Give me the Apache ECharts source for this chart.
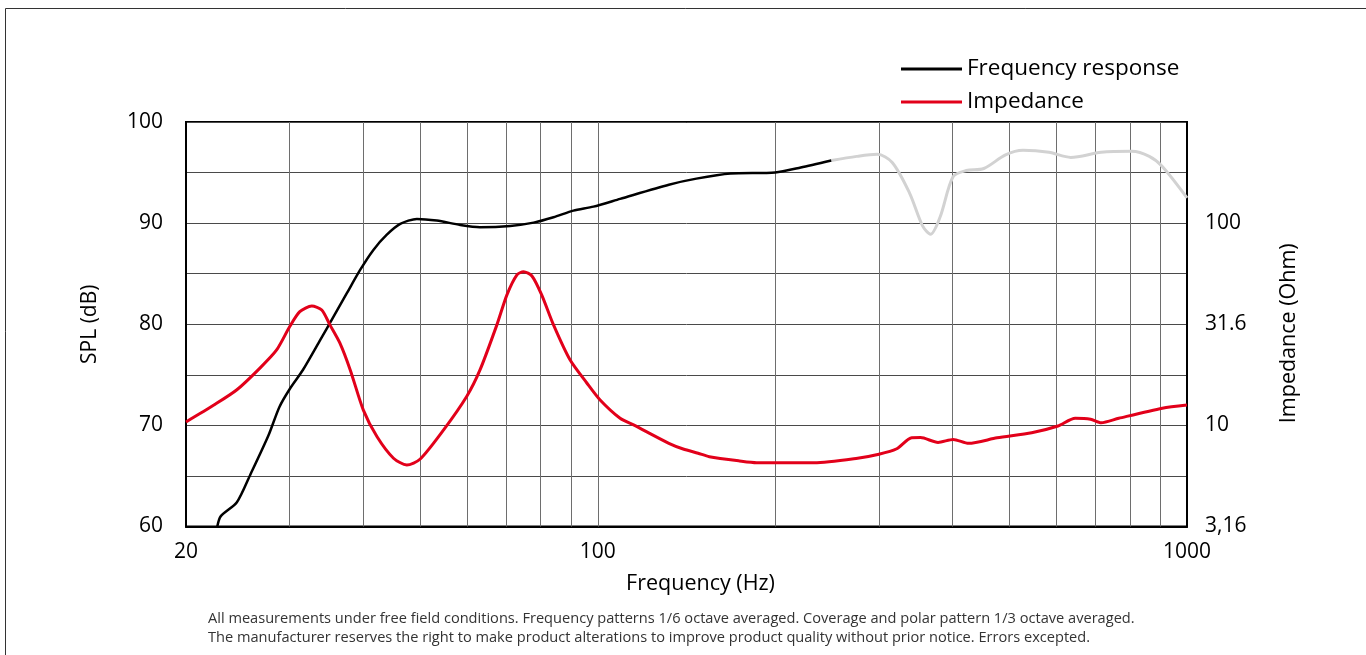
<!DOCTYPE html>
<html>
<head>
<meta charset="utf-8">
<script src="https://cdn.jsdelivr.net/npm/echarts@6/dist/echarts.min.js"></script>
<style>
html,body{margin:0;padding:0;background:#fff;}
#chart{width:1366px;height:655px;}
</style>
</head>
<body>
<div id="chart"></div>
<script>
// Frequency response (black, measured range)
const frFreqBlack = [22.6, 22.9, 24.4, 25.7, 27.6, 28.8, 30.0, 31.6, 33.8, 35.6, 37.5, 39.5, 41.6, 43.8, 46.2, 49.3, 53.3, 58.4, 63.1, 71.0, 77.8, 84.1, 90.9, 98.3, 109.1, 132, 147, 168, 200, 221, 249];
const frSplBlack  = [60.0, 61.0, 62.4, 65.1, 69.0, 71.8, 73.6, 75.5, 78.45, 80.75, 83.07, 85.37, 87.35, 88.83, 89.92, 90.42, 90.25, 89.82, 89.6, 89.72, 90.05, 90.58, 91.24, 91.63, 92.4, 93.8, 94.4, 94.9, 95.0, 95.5, 96.2];
// Frequency response (grey, out of band)
const frFreqGrey = [249, 275, 298, 316, 338, 356, 367, 381, 401, 422, 452, 492, 527, 583, 635, 715, 806, 863, 908, 1000];
const frSplGrey  = [96.2, 96.6, 96.8, 96.0, 93.0, 89.7, 88.9, 90.6, 94.6, 95.2, 95.4, 96.75, 97.2, 97.0, 96.5, 97.0, 97.1, 96.6, 95.6, 92.5];
// Impedance (Ohm)
const impFreq = [20, 22.3, 24.4, 26.7, 28.5, 30.0, 31.2, 32.7, 34.0, 35.1, 36.5, 38.0, 40.0, 42.2, 45.0, 47.4, 49.9, 54.7, 59.9, 63.1, 67.4, 70.1, 72.9, 74.8, 77.3, 80.3, 84.1, 89.7, 95.8, 100.9, 109.1, 115, 132, 139.6, 148, 154.6, 174, 186, 233, 276, 300, 321, 341, 353, 378, 401, 426, 476, 545, 604, 646, 686, 715, 766, 908, 1000];
const impOhm  = [10.4, 12.6, 15.0, 19.2, 23.6, 30.8, 36.5, 38.9, 37.2, 31.4, 25.5, 18.8, 11.9, 8.78, 6.88, 6.37, 6.80, 9.48, 13.9, 18.8, 31.4, 44.2, 55.5, 57.5, 54.8, 44.2, 31.4, 21.1, 16.2, 13.35, 10.84, 10.05, 8.15, 7.64, 7.28, 7.0, 6.67, 6.54, 6.54, 6.88, 7.2, 7.64, 8.68, 8.7, 8.24, 8.52, 8.15, 8.68, 9.2, 9.93, 10.84, 10.72, 10.3, 10.84, 12.16, 12.6];

// Axis tick labels / gridlines
const xGridValues = [30, 40, 50, 60, 70, 80, 90, 100, 200, 300, 400, 500, 600, 700, 800, 900];
const splTickLabels = ['60', '70', '80', '90', '100'];
const impTickLabels = ['3,16', '10', '31.6', '100', ''];
const legendNames = ['Frequency response', 'Impedance'];
const footnoteLines = [
  'All measurements under free field conditions. Frequency patterns 1/6 octave averaged. Coverage and polar pattern 1/3 octave averaged.',
  'The manufacturer reserves the right to make product alterations to improve product quality without prior notice. Errors excepted.'
];

const pair = (xs, ys) => xs.map((x, i) => [x, ys[i]]);
const FONT = 'Open Sans';

const chart = echarts.init(document.getElementById('chart'), null, {renderer: 'canvas'});
chart.setOption({
  animation: false,
  backgroundColor: '#fff',
  textStyle: {fontFamily: FONT},
  grid: {left: 186, right: 179, top: 122, bottom: 128.5, show: true, borderColor: '#000', borderWidth: 2, containLabel: false},
  legend: {
    data: legendNames,
    orient: 'vertical',
    left: 901, top: 56, padding: 0,
    icon: 'rect', itemWidth: 61, itemHeight: 3, itemGap: 7, itemTextGap: 4,
    textStyle: {fontFamily: FONT, fontSize: 22.5, color: '#000', lineHeight: 26}
  },
  xAxis: {
    type: 'log', logBase: 10, min: 20, max: 1000,
    name: 'Frequency (Hz)', nameLocation: 'middle', nameGap: 46,
    nameTextStyle: {fontFamily: FONT, fontSize: 21.5, color: '#000', padding: [0, 0, 0, 28]},
    axisLine: {show: true, lineStyle: {color: '#000', width: 2}},
    axisTick: {show: false},
    splitLine: {show: false},
    axisLabel: {fontFamily: FONT, fontSize: 21, color: '#000', margin: 15, showMinLabel: true, showMaxLabel: true,
      formatter: v => String(Math.round(v))}
  },
  yAxis: [
    {
      type: 'value', min: 60, max: 100, interval: 5, position: 'left',
      name: 'SPL (dB)', nameLocation: 'middle', nameGap: 85, nameRotate: 90,
      nameTextStyle: {fontFamily: FONT, fontSize: 21, color: '#000'},
      axisLine: {show: true, lineStyle: {color: '#000', width: 2}},
      axisTick: {show: false},
      splitLine: {show: true, lineStyle: {color: '#4a4a4a', width: 1}},
      axisLabel: {fontFamily: FONT, fontSize: 21, color: '#000', margin: 23, padding: [0, 0, 4, 0],
        formatter: v => (v % 10 === 0 ? splTickLabels[(v - 60) / 10] : '')}
    },
    {
      type: 'log', logBase: 10, min: 3.1623, max: 316.23, show: false
    },
    {
      type: 'value', min: 60, max: 100, interval: 10, position: 'right',
      name: 'Impedance (Ohm)', nameLocation: 'middle', nameGap: 91, nameRotate: 90,
      nameTextStyle: {fontFamily: FONT, fontSize: 21.5, color: '#000', padding: [0, 18, 0, 0]},
      axisLine: {show: true, lineStyle: {color: '#000', width: 2}},
      axisTick: {show: false},
      splitLine: {show: false},
      axisLabel: {fontFamily: FONT, fontSize: 21, color: '#000', margin: 18, padding: [0, 0, 2, 0],
        formatter: v => impTickLabels[Math.round((v - 60) / 10)]}
    }
  ],
  graphic: [
    {type: 'line', shape: {x1: 5.5, y1: 8.5, x2: 1366, y2: 8.5}, style: {stroke: '#333', lineWidth: 1}},
    {type: 'line', shape: {x1: 5.5, y1: 8.5, x2: 5.5, y2: 655}, style: {stroke: '#333', lineWidth: 1}},
    {type: 'text', left: 208, top: 611, style: {text: footnoteLines[0], fontFamily: FONT, fontSize: 14.6, fill: '#333'}},
    {type: 'text', left: 208, top: 630, style: {text: footnoteLines[1], fontFamily: FONT, fontSize: 14.6, fill: '#333'}}
  ],
  series: [
    {
      name: 'Frequency response', type: 'line', xAxisIndex: 0, yAxisIndex: 0, z: 10,
      data: pair(frFreqBlack, frSplBlack), showSymbol: false, symbol: 'none', smooth: 0.25,
      lineStyle: {color: '#000', width: 2.5}, itemStyle: {color: '#000'},
      markLine: {
        silent: true, symbol: ['none', 'none'], label: {show: false}, animation: false,
        lineStyle: {color: '#6e6e6e', width: 1, type: 'solid'},
        emphasis: {disabled: true},
        data: xGridValues.map(v => ({xAxis: v}))
      }
    },
    {
      name: 'Frequency response (out of band)', type: 'line', xAxisIndex: 0, yAxisIndex: 0, z: 9,
      data: pair(frFreqGrey, frSplGrey), showSymbol: false, symbol: 'none', smooth: 0.3,
      lineStyle: {color: '#d2d2d2', width: 3}, itemStyle: {color: '#d2d2d2'}
    },
    {
      name: 'Impedance', type: 'line', xAxisIndex: 0, yAxisIndex: 1, z: 11,
      data: pair(impFreq, impOhm), showSymbol: false, symbol: 'none', smooth: 0.25,
      lineStyle: {color: '#e2001a', width: 3}, itemStyle: {color: '#e2001a'}
    }
  ]
});
</script>
</body>
</html>
